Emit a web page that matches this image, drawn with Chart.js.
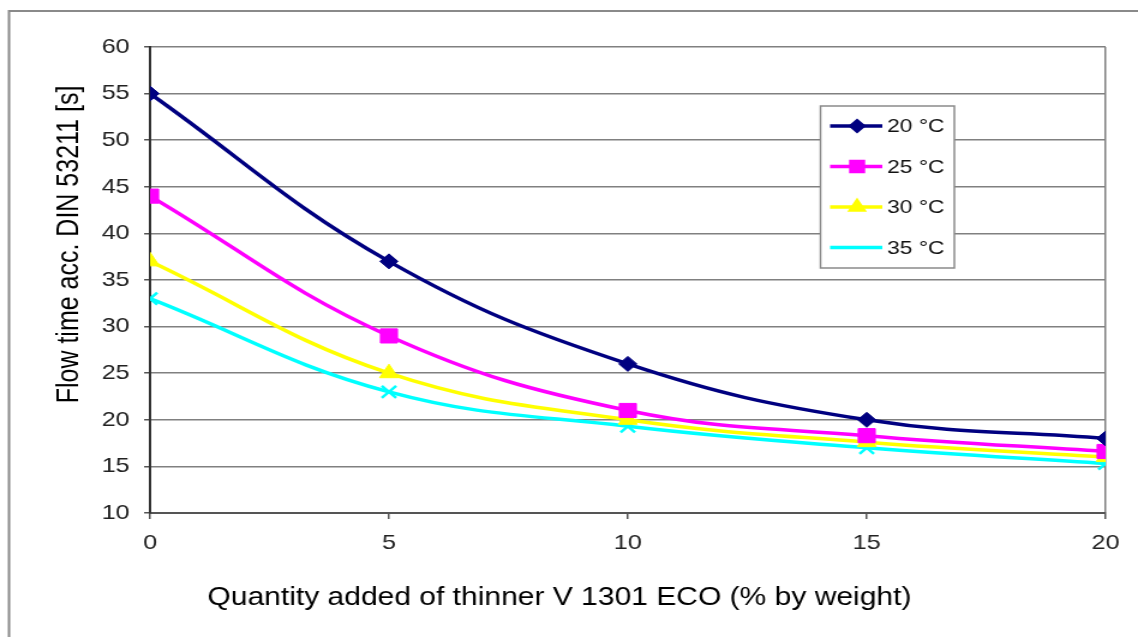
<!DOCTYPE html>
<html>
<head>
<meta charset="utf-8">
<script src="https://cdn.jsdelivr.net/npm/chart.js@4.4.1/dist/chart.umd.min.js"></script>
<style>
html,body{margin:0;padding:0;background:#fff;overflow:hidden;}
#wrap{position:relative;width:1138px;height:637px;}
#c{display:block;width:1138px;height:637px;}
</style>
</head>
<body>
<div id="wrap"><canvas id="c" width="948" height="637" style="width:1138px;height:637px;"></canvas></div>
<script>
const xValues = [0, 5, 10, 15, 20];
const seriesLabels = ['20 °C', '25 °C', '30 °C', '35 °C'];
const s20 = [55, 37, 26, 20, 18];
const s25 = [44, 29, 21, 18.3, 16.6];
const s30 = [37, 25, 20, 17.6, 16];
const s35 = [33, 23, 19.3, 17, 15.3];
const xTickStep = 5;
const yMin = 10, yMax = 60, yStep = 5;
const xTitle = 'Quantity added of thinner V 1301 ECO (% by weight)';
const yTitle = 'Flow time acc. DIN 53211 [s]';

// canvas is drawn 948 wide and shown 1138 wide (reference is horizontally stretched)
const colors = ['#000080', '#FF00FF', '#FFFF00', '#00FFFF'];
const styles = ['rectRot', 'rect', 'triangle', 'crossRot'];
const radii = [7.5, 10, 9, 8.5];
const FONT = '"Liberation Sans", Arial, sans-serif';

function pts(arr){ return arr.map((v,i)=>({x:xValues[i], y:v})); }
const all = [s20, s25, s30, s35];
const datasets = all.map((arr,i)=>({
  label: seriesLabels[i],
  data: pts(arr),
  borderColor: colors[i],
  backgroundColor: colors[i],
  borderWidth: 3.5,
  tension: 0.4,
  pointStyle: styles[i],
  pointRadius: radii[i],
  pointBorderWidth: i===3 ? 2.5 : 1,
  pointBackgroundColor: colors[i],
  pointBorderColor: colors[i],
  fill: false
}));

const frame = {
  id:'frame',
  beforeDraw(chart){
    const ctx = chart.ctx;
    ctx.save();
    ctx.fillStyle = '#fff';
    ctx.fillRect(0,0,chart.width,chart.height);
    ctx.strokeStyle = '#8a8a8a';
    ctx.lineWidth = 2;
    ctx.strokeRect(7.5, 11, 1300, 800);
    ctx.restore();
  }
};

const titles = {
  id:'titles',
  afterDraw(chart){
    const ctx = chart.ctx;
    ctx.save();
    ctx.fillStyle = '#000';
    ctx.font = '25px ' + FONT;
    ctx.textAlign = 'center';
    ctx.textBaseline = 'middle';
    ctx.fillText(xTitle, 466, 598);
    ctx.translate(58.5, 244.5);
    ctx.rotate(-Math.PI/2);
    ctx.fillText(yTitle, 0, 0);
    ctx.restore();
  }
};

const legendBox = {
  id:'legendBox',
  afterDraw(chart){
    const ctx = chart.ctx;
    const x0 = 683.5, y0 = 106, w = 111.5, h = 162;
    ctx.save();
    ctx.fillStyle = '#fff';
    ctx.fillRect(x0, y0, w, h);
    ctx.strokeStyle = '#8a8a8a';
    ctx.lineWidth = 1.5;
    ctx.strokeRect(x0, y0, w, h);
    chart.data.datasets.forEach((ds, i) => {
      const cy = 126 + i*40.5;
      ctx.strokeStyle = ds.borderColor;
      ctx.lineWidth = 3.5;
      ctx.beginPath();
      ctx.moveTo(691.5, cy);
      ctx.lineTo(735, cy);
      ctx.stroke();
      if (i < 3) {
        Chart.helpers.drawPoint(ctx, {pointStyle: ds.pointStyle, radius: i===0?5:(i===1?7:6), borderWidth:1, rotation:0}, 714, cy);
        ctx.fillStyle = ds.backgroundColor;
        ctx.fill();
      }
      ctx.fillStyle = '#111';
      ctx.font = '19px ' + FONT;
      ctx.textBaseline = 'middle';
      ctx.textAlign = 'left';
      ctx.fillText(ds.label, 739, cy + 1);
    });
    ctx.restore();
  }
};

new Chart(document.getElementById('c'), {
  type: 'line',
  data: { datasets },
  options: {
    responsive: false,
    animation: false,
    devicePixelRatio: 1,
    layout: { padding: { top: 47, right: 27, left: 0, bottom: 0 } },
    plugins: { legend: { display: false }, tooltip: { enabled: false } },
    scales: {
      x: {
        type: 'linear',
        min: xValues[0], max: xValues[xValues.length-1],
        ticks: { stepSize: xTickStep, color: '#222', font: { family: FONT, size: 21 }, padding: 12, maxRotation: 0 },
        grid: {
          color: (c) => (c.tick && c.tick.value === xValues[xValues.length-1]) ? '#808080' : 'rgba(0,0,0,0)',
          lineWidth: 1.5,
          tickColor: '#555',
          tickLength: 6,
          drawTicks: true
        },
        border: { color: '#555', width: 2 },
        title: { display: false },
        afterFit(scale){ scale.height = 124; }
      },
      y: {
        min: yMin, max: yMax,
        ticks: { stepSize: yStep, color: '#222', font: { family: FONT, size: 21 }, padding: 12 },
        grid: { color: '#808080', lineWidth: 1.5, tickColor: '#555', tickLength: 5 },
        border: { color: '#333', width: 2 },
        title: { display: false },
        afterFit(scale){ scale.width = 125; }
      }
    }
  },
  plugins: [frame, titles, legendBox]
});
</script>
</body>
</html>
